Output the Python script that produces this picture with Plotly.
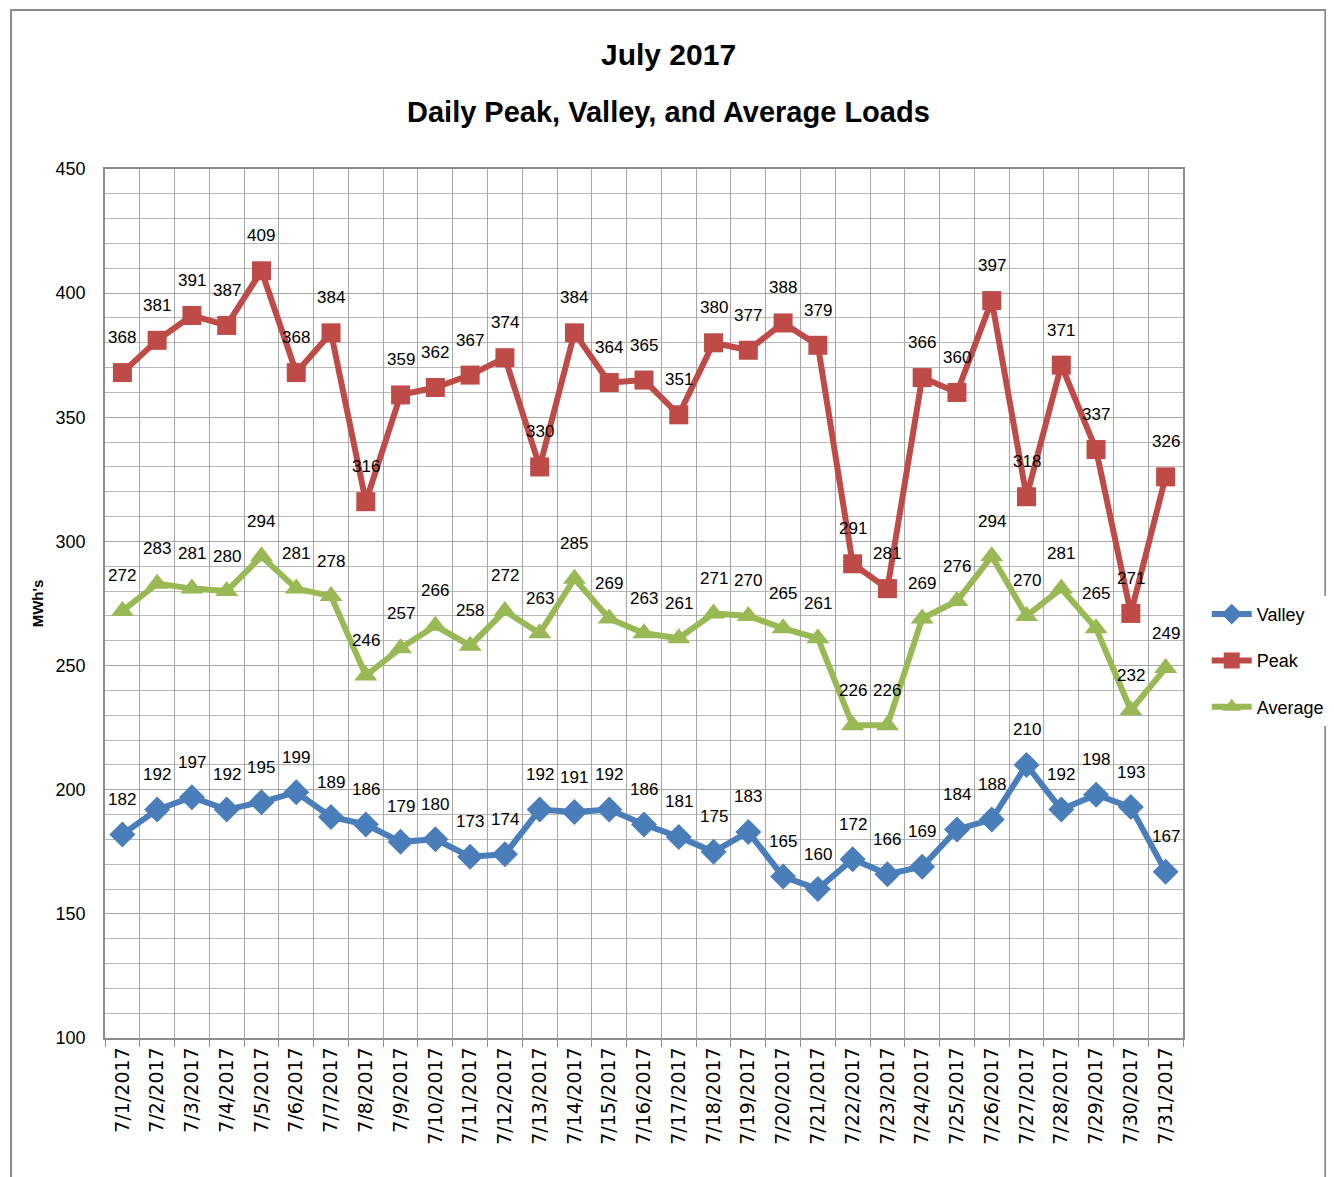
import plotly.graph_objects as go

dates = [f"7/{d}/2017" for d in range(1, 32)]

valley = [182, 192, 197, 192, 195, 199, 189, 186, 179, 180, 173, 174, 192, 191, 192, 186,
          181, 175, 183, 165, 160, 172, 166, 169, 184, 188, 210, 192, 198, 193, 167]
peak = [368, 381, 391, 387, 409, 368, 384, 316, 359, 362, 367, 374, 330, 384, 364, 365,
        351, 380, 377, 388, 379, 291, 281, 366, 360, 397, 318, 371, 337, 271, 326]
average = [272, 283, 281, 280, 294, 281, 278, 246, 257, 266, 258, 272, 263, 285, 269, 263,
           261, 271, 270, 265, 261, 226, 226, 269, 276, 294, 270, 281, 265, 232, 249]

y_ticks = [100, 150, 200, 250, 300, 350, 400, 450]

FONT = "Liberation Sans, Arial, sans-serif"

series = [
    ("Valley", valley, "#4a7ebb", "diamond", 20),
    ("Peak", peak, "#be4b48", "square", 19),
    ("Average", average, "#98b954", "triangle-up", 20),
]

fig = go.Figure()
for name, vals, color, symbol, msize in series:
    fig.add_trace(go.Scatter(
        x=dates, y=vals, name=name, mode="lines+markers",
        line=dict(color=color, width=6),
        marker=dict(symbol=symbol, size=msize, color=color),
        legendgroup=name, cliponaxis=False,
    ))
    # data labels above each point
    for d, v in zip(dates, vals):
        fig.add_annotation(x=d, y=v, text=str(v), showarrow=False, yshift=35,
                           font=dict(family=FONT, size=17, color="black"))

# page body has an 8px margin, so the margins are shifted by that much
fig.update_layout(
    width=1334, height=1177,
    paper_bgcolor="white", plot_bgcolor="white",
    margin=dict(l=97, r=159, t=161, b=147),
    legend=dict(x=1.022, y=0.434, xanchor="left", yanchor="middle",
                font=dict(family=FONT, size=18, color="black"),
                itemwidth=40, tracegroupgap=20),
    showlegend=True,
)

# two-line title
fig.add_annotation(text="<b>July 2017</b>", xref="paper", yref="paper",
                   x=0.523, y=1.1312, showarrow=False, yanchor="middle",
                   font=dict(family=FONT, size=30, color="black"))
fig.add_annotation(text="<b>Daily Peak, Valley, and Average Loads</b>", xref="paper", yref="paper",
                   x=0.523, y=1.0656, showarrow=False, yanchor="middle",
                   font=dict(family=FONT, size=29, color="black"))

fig.update_xaxes(
    type="category", tickson="boundaries", tickangle=-90, range=[-0.5, 30.5],
    showgrid=True, gridcolor="#a6a6a6", gridwidth=1,
    showline=True, linecolor="#8c8c8c", linewidth=1.5,
    ticks="outside", ticklen=7, tickcolor="#8c8c8c",
    tickfont=dict(family="DejaVu Sans", size=19, color="black"),
    mirror=True, automargin=False,
)
fig.update_yaxes(
    range=[100, 450], tickvals=y_ticks,
    showgrid=True, gridcolor="#a6a6a6", gridwidth=1,
    minor=dict(dtick=10, showgrid=True, gridcolor="#b8b8b8", gridwidth=1),
    showline=True, linecolor="#8c8c8c", linewidth=1.5, mirror=True,
    tickfont=dict(family=FONT, size=18, color="black"),
    ticklabelstandoff=14, automargin=False,
    title=dict(text="<b>MWh's</b>", font=dict(family=FONT, size=15, color="black"),
               standoff=8),
)

# chart frame
fig.add_shape(type="rect", xref="paper", yref="paper",
              x0=-0.0872, x1=1.132, y0=-0.2, y1=1.183,
              line=dict(color="#8c8c8c", width=2), layer="below")

fig.write_html("out.html")
